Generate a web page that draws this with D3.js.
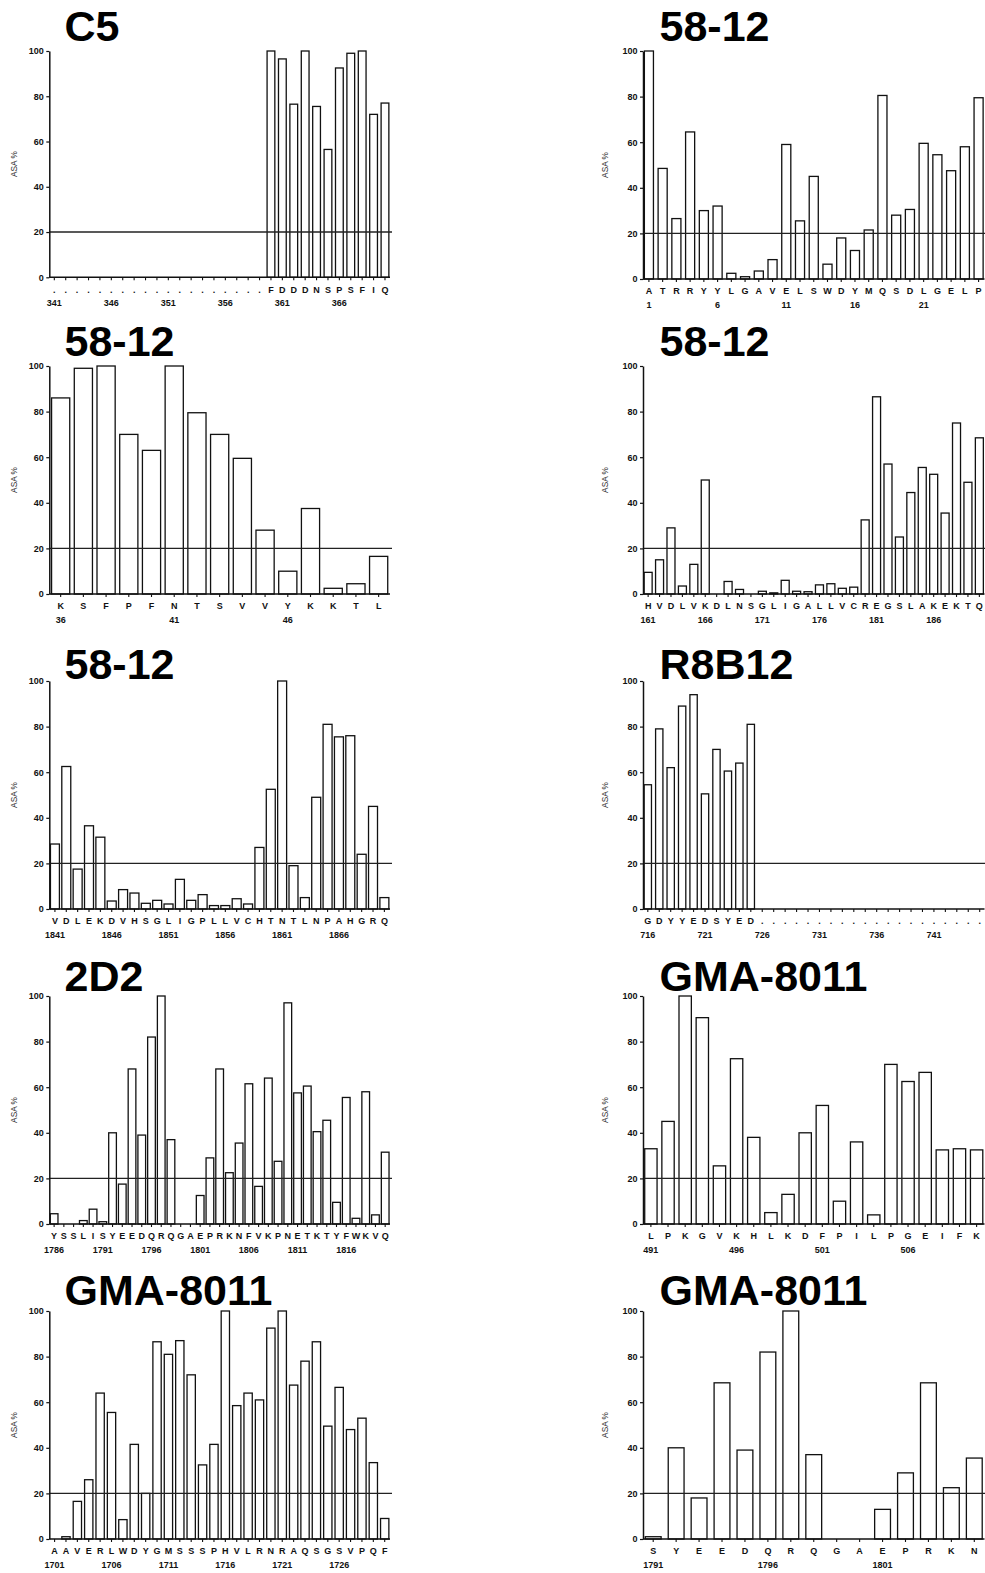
<!DOCTYPE html>
<html><head><meta charset="utf-8">
<script src="https://cdn.jsdelivr.net/npm/d3@7"></script>
<style>body{margin:0;background:#fff}svg{display:block}</style>
</head><body>
<svg id="chart" width="985" height="1573"></svg>
<script>
// ---------- DATA ----------
const yTicks = [0, 20, 40, 60, 80, 100];
const threshold = 20;

const c5Residues = [".",".",".",".",".",".",".",".",".",".",".",".",".",".",".",".",".",".",".","F","D","D","D","N","S","P","S","F","I","Q"];
const c5Values = [null,null,null,null,null,null,null,null,null,null,null,null,null,null,null,null,null,null,null,100,96.5,76.5,100,75.5,56.5,92.5,99,100,72,77];
const c5Numbers = [341,346,351,356,361,366];

const m1Residues = ["A","T","R","R","Y","Y","L","G","A","V","E","L","S","W","D","Y","M","Q","S","D","L","G","E","L","P"];
const m1Values = [100,48.5,26.5,64.5,30,32,2.5,1,3.5,8.5,59,25.5,45,6.5,18,12.5,21.5,80.5,28,30.5,59.5,54.5,47.5,58,79.5];
const m1Numbers = [1,6,11,16,21];

const m2Residues = ["K","S","F","P","F","N","T","S","V","V","Y","K","K","T","L"];
const m2Values = [86,99,100,70,63,100,79.5,70,59.5,28,10,37.5,2.5,4.5,16.5];
const m2Numbers = [36,41,46];

const m3Residues = ["H","V","D","L","V","K","D","L","N","S","G","L","I","G","A","L","L","V","C","R","E","G","S","L","A","K","E","K","T","Q"];
const m3Values = [9.5,15,29,3.5,13,50,0,5.5,2,0,1.2,0.5,6,1.2,1,4,4.5,2.5,3,32.5,86.5,57,25,44.5,55.5,52.5,35.5,75,49,68.5];
const m3Numbers = [161,166,171,176,181,186];

const m4Residues = ["V","D","L","E","K","D","V","H","S","G","L","I","G","P","L","L","V","C","H","T","N","T","L","N","P","A","H","G","R","Q"];
const m4Values = [28.5,62.5,17.5,36.5,31.5,3.5,8.5,7,2.5,3.8,2.2,13,3.8,6.3,1.5,1.5,4.5,2.2,27,52.5,100,19,5,49,81,75.5,76,24,45,5];
const m4Numbers = [1841,1846,1851,1856,1861,1866];

const r8Residues = ["G","D","Y","Y","E","D","S","Y","E","D",".",".",".",".",".",".",".",".",".",".",".",".",".",".",".",".",".",".",".","."];
const r8Values = [54.5,79,62,89,94,50.5,70,60.5,64,81,null,null,null,null,null,null,null,null,null,null,null,null,null,null,null,null,null,null,null,null];
const r8Numbers = [716,721,726,731,736,741];

const d2Residues = ["Y","S","S","L","I","S","Y","E","E","D","Q","R","Q","G","A","E","P","R","K","N","F","V","K","P","N","E","T","K","T","Y","F","W","K","V","Q"];
const d2Values = [4.5,0,0,1.5,6.5,1,40,17.5,68,39,82,100,37,0,0,12.5,29,68,22.5,35.5,61.5,16.5,64,27.5,97,57.5,60.5,40.5,45.5,9.5,55.5,2.5,58,4,31.5];
const d2Numbers = [1786,1791,1796,1801,1806,1811,1816];

const g1Residues = ["L","P","K","G","V","K","H","L","K","D","F","P","I","L","P","G","E","I","F","K"];
const g1Values = [33,45,100,90.5,25.5,72.5,38,5,13,40,52,10,36,4,70,62.5,66.5,32.5,33,32.5];
const g1Numbers = [491,496,501,506];

const g2Residues = ["A","A","V","E","R","L","W","D","Y","G","M","S","S","S","P","H","V","L","R","N","R","A","Q","S","G","S","V","P","Q","F"];
const g2Values = [0,1,16.5,26,64,55.5,8.5,41.5,20,86.5,81,87,72,32.5,41.5,100,58.5,64,61,92.5,100,67.5,78,86.5,49.5,66.5,48,53,33.5,9];
const g2Numbers = [1701,1706,1711,1716,1721,1726];

const g3Residues = ["S","Y","E","E","D","Q","R","Q","G","A","E","P","R","K","N"];
const g3Values = [1,40,18,68.5,39,82,100,37,0,0,13,29,68.5,22.5,35.5];
const g3Numbers = [1791,1796,1801];

// ---------- LAYOUT ----------
const panels = [
  {title:"C5",       res:c5Residues, val:c5Values, num:c5Numbers, start:341,  col:0, row:0, pi:0.32},
  {title:"58-12",    res:m1Residues, val:m1Values, num:m1Numbers, start:1,    col:1, row:0, pi:0.34},
  {title:"58-12",    res:m2Residues, val:m2Values, num:m2Numbers, start:36,   col:0, row:1, pi:0.20},
  {title:"58-12",    res:m3Residues, val:m3Values, num:m3Numbers, start:161,  col:1, row:1, pi:0.30},
  {title:"58-12",    res:m4Residues, val:m4Values, num:m4Numbers, start:1841, col:0, row:2, pi:0.21},
  {title:"R8B12",    res:r8Residues, val:r8Values, num:r8Numbers, start:716,  col:1, row:2, pi:0.36},
  {title:"2D2",      res:d2Residues, val:d2Values, num:d2Numbers, start:1786, col:0, row:3, pi:0.21},
  {title:"GMA-8011", res:g1Residues, val:g1Values, num:g1Numbers, start:491,  col:1, row:3, pi:0.28},
  {title:"GMA-8011", res:g2Residues, val:g2Values, num:g2Numbers, start:1701, col:0, row:4, pi:0.27},
  {title:"GMA-8011", res:g3Residues, val:g3Values, num:g3Numbers, start:1791, col:1, row:4, pi:0.31}
];

const colAxisX = [49.3, 643.0];
const colRangeEnd = [390, 984.5];
const colLineEnd = [392, 985];
const colTitleX = [64.5, 659.5];
const colLabelX = [15, 606];
const rowTop = [51, 366, 681, 996, 1311];
const rowTitleBase = [41, 356, 679, 991, 1305];

const svg = d3.select("#chart");
svg.append("rect").attr("width",985).attr("height",1573).attr("fill","#fff");

const tickFont = "'Liberation Sans', Arial, sans-serif";
const tickSize = "9px";

panels.forEach(p => {
  const ax = colAxisX[p.col];
  const top = rowTop[p.row];
  const bottom = top + (p.row === 0 && p.col === 0 ? 226.3 : 228);
  const idx = p.res.map((_, i) => i);

  const x = d3.scaleBand().domain(idx).range([ax, colRangeEnd[p.col]])
    .paddingInner(p.pi).paddingOuter(0.1);
  const y = d3.scaleLinear().domain([0, 100]).range([bottom, top]);

  const g = svg.append("g");

  // bars
  g.selectAll("rect.bar").data(idx.filter(i => p.val[i] !== null)).join("rect")
    .attr("class","bar")
    .attr("x", i => x(i))
    .attr("width", x.bandwidth())
    .attr("y", i => y(p.val[i]))
    .attr("height", i => y(0) - y(p.val[i]))
    .attr("fill","#fff").attr("stroke","#111").attr("stroke-width",1.3);

  // threshold line
  g.append("line")
    .attr("x1", ax).attr("x2", colLineEnd[p.col])
    .attr("y1", y(threshold)).attr("y2", y(threshold))
    .attr("stroke","#222").attr("stroke-width",1.4);

  // y axis
  const ya = g.append("g").attr("transform",`translate(${ax},0)`)
    .call(d3.axisLeft(y).tickValues(yTicks).tickSize(3).tickSizeOuter(0).tickPadding(2.5));
  ya.select(".domain").attr("stroke","#111").attr("stroke-width",1.5);
  ya.selectAll(".tick line").attr("stroke","#111").attr("stroke-width",1.2);
  ya.selectAll(".tick text").attr("font-family",tickFont).attr("font-weight","bold")
    .attr("font-size",tickSize).attr("fill","#111");

  // x axis
  const xa = g.append("g").attr("transform",`translate(0,${bottom})`)
    .call(d3.axisBottom(x).tickSize(3).tickSizeOuter(0).tickPadding(6)
      .tickFormat(i => p.res[i]));
  xa.select(".domain").attr("stroke","#111").attr("stroke-width",1.5)
    .attr("d", `M${ax},0H${colRangeEnd[p.col]}`);
  xa.selectAll(".tick line").attr("stroke","#111").attr("stroke-width",1.1);
  xa.selectAll(".tick text").attr("font-family",tickFont).attr("font-weight","bold")
    .attr("font-size",tickSize).attr("fill","#111");

  // residue numbers
  g.selectAll("text.num").data(p.num).join("text")
    .attr("class","num")
    .attr("x", n => x(n - p.start) + x.bandwidth()/2)
    .attr("y", bottom + 29)
    .attr("text-anchor","middle")
    .attr("font-family",tickFont).attr("font-weight","bold")
    .attr("font-size",tickSize).attr("fill","#111")
    .text(n => n);

  // y label
  g.append("text")
    .attr("transform",`translate(${colLabelX[p.col]},${(top+bottom)/2}) rotate(-90)`)
    .attr("text-anchor","middle")
    .attr("dominant-baseline","middle")
    .attr("font-family",tickFont).attr("font-size","8.3px").attr("fill","#333")
    .text("ASA %");

  // title
  g.append("text")
    .attr("x", colTitleX[p.col]).attr("y", rowTitleBase[p.row])
    .attr("font-family","'Liberation Sans', Arial, sans-serif")
    .attr("font-weight","bold").attr("font-size","43px").attr("fill","#000")
    .text(p.title);
});
</script>
</body></html>
